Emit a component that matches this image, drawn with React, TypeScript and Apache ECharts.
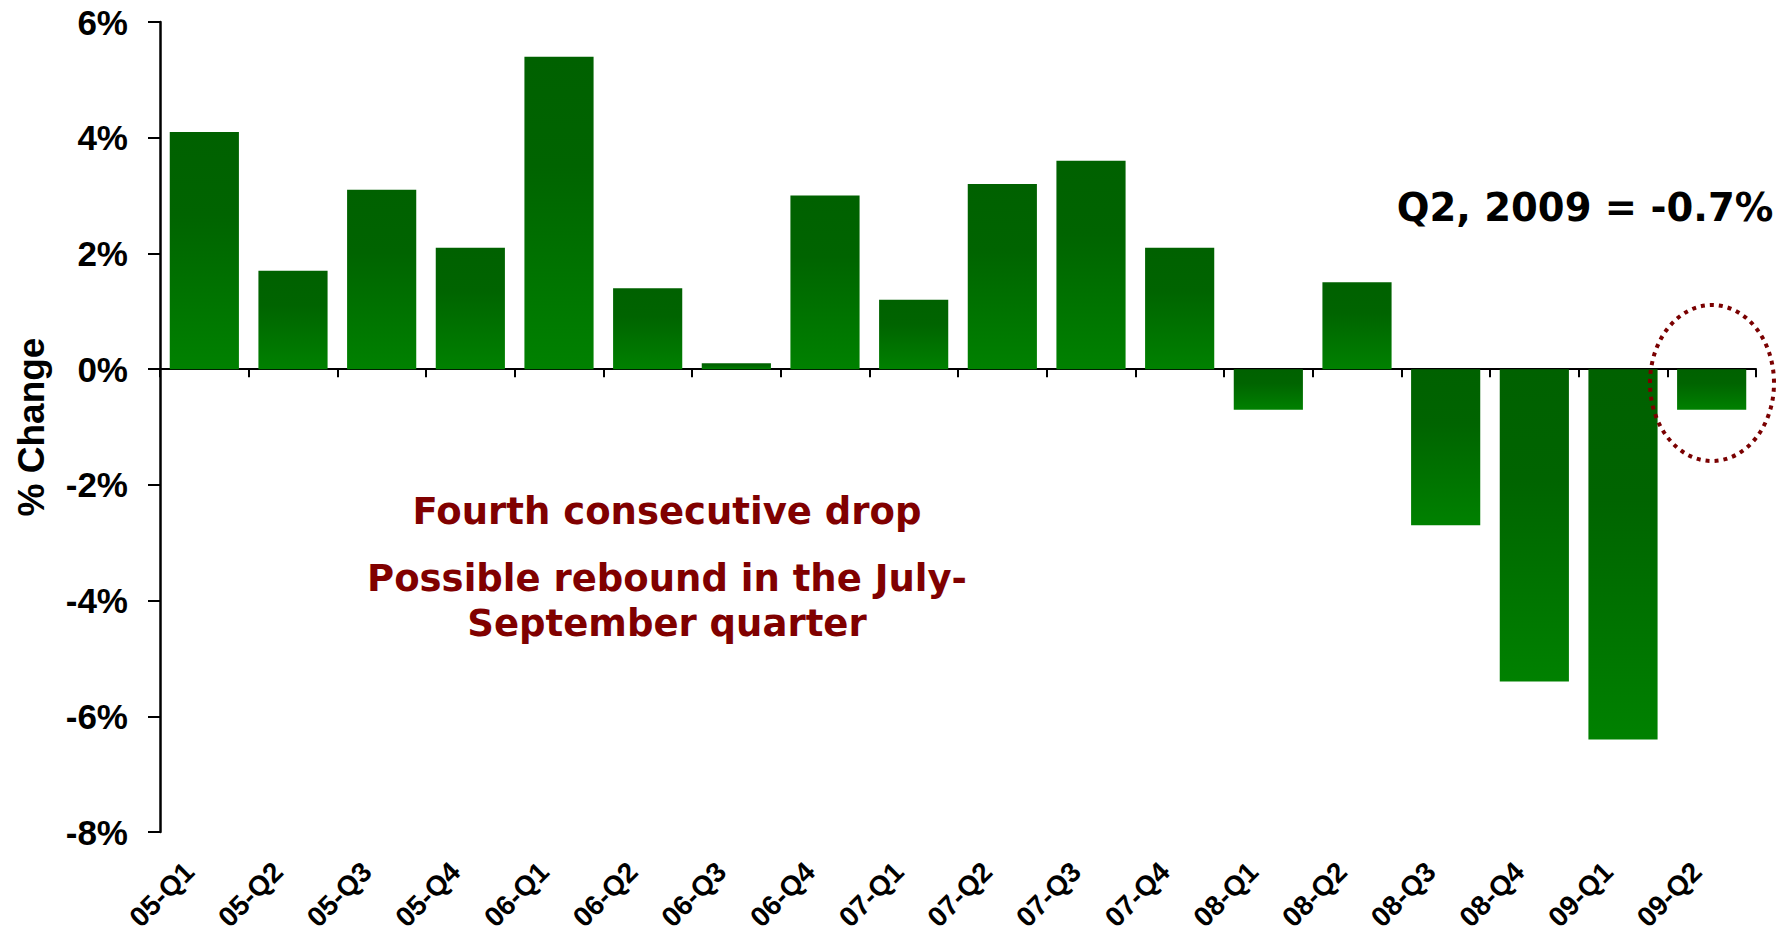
import React, { useEffect, useRef } from "react";
import * as echarts from "echarts";

const categories = [
  "05-Q1", "05-Q2", "05-Q3", "05-Q4",
  "06-Q1", "06-Q2", "06-Q3", "06-Q4",
  "07-Q1", "07-Q2", "07-Q3", "07-Q4",
  "08-Q1", "08-Q2", "08-Q3", "08-Q4",
  "09-Q1", "09-Q2",
];
const gdpChange = [
  4.1, 1.7, 3.1, 2.1,
  5.4, 1.4, 0.1, 3.0,
  1.2, 3.2, 3.6, 2.1,
  -0.7, 1.5, -2.7, -5.4,
  -6.4, -0.7,
];
const yMin = -8;
const yMax = 6;
const yStep = 2;
const yAxisTitle = "% Change";
const calloutText = "Q2, 2009 = -0.7%";
const noteLines = ["Fourth consecutive drop", "Possible rebound in the July-", "September quarter"];

export default function App() {
  const ref = useRef<HTMLDivElement>(null);
  useEffect(() => {
    if (!ref.current) return;
    const chart = echarts.init(ref.current, undefined, { renderer: "svg" });
    const barGradient = new echarts.graphic.LinearGradient(0, 0, 0, 1, [
      { offset: 0, color: "#006100" },
      { offset: 0.35, color: "#006400" },
      { offset: 1, color: "#008100" },
    ]);
    const labelFont = '"Liberation Sans", Arial, sans-serif';
    const noteFont = 'bold 37px "DejaVu Sans", Verdana, sans-serif';
    chart.setOption({
      animation: false,
      backgroundColor: "#ffffff",
      grid: [
        { left: 160, right: 32, top: 22, bottom: 102, containLabel: false },
        { left: 145, right: 47, top: 22, bottom: 102, containLabel: false },
      ],
      xAxis: [
        {
          type: "category",
          gridIndex: 0,
          data: categories,
          boundaryGap: true,
          axisLine: { show: true, onZero: true, lineStyle: { color: "#000", width: 2 } },
          axisTick: { show: true, length: 8, alignWithLabel: false, lineStyle: { color: "#000", width: 2 } },
          axisLabel: { show: false },
          splitLine: { show: false },
        },
        {
          type: "category",
          gridIndex: 1,
          data: categories,
          position: "bottom",
          boundaryGap: true,
          axisLine: { show: false, onZero: false },
          axisTick: { show: false },
          axisLabel: {
            show: true,
            rotate: 45,
            margin: 51,
            interval: 0,
            color: "#000",
            fontWeight: "bold",
            fontSize: 28,
            fontFamily: labelFont,
          },
          splitLine: { show: false },
        },
      ],
      yAxis: [
        {
          type: "value",
          gridIndex: 0,
          min: yMin,
          max: yMax,
          interval: yStep,
          axisLine: { show: true, lineStyle: { color: "#000", width: 2.5 } },
          axisTick: { show: true, length: 12, lineStyle: { color: "#000", width: 2 } },
          axisLabel: {
            formatter: "{value}%",
            margin: 32,
            color: "#000",
            fontWeight: "bold",
            fontSize: 35,
            fontFamily: labelFont,
          },
          splitLine: { show: false },
        },
        {
          type: "value",
          gridIndex: 1,
          min: yMin,
          max: yMax,
          interval: yStep,
          show: false,
        },
      ],
      series: [
        {
          type: "bar",
          data: gdpChange,
          xAxisIndex: 0,
          yAxisIndex: 0,
          barWidth: "78%",
          itemStyle: { color: barGradient },
        },
      ],
      graphic: [
        {
          type: "text",
          x: 31,
          y: 427,
          rotation: Math.PI / 2,
          style: {
            text: yAxisTitle,
            fill: "#000",
            font: 'bold 37px "Liberation Sans", Arial, sans-serif',
            align: "center",
            verticalAlign: "middle",
          },
        },
        {
          type: "text",
          x: 1585,
          y: 207,
          style: {
            text: calloutText,
            fill: "#000",
            font: 'bold 38.5px "DejaVu Sans", Verdana, sans-serif',
            align: "center",
            verticalAlign: "middle",
          },
        },
        {
          type: "text",
          x: 667,
          y: 511,
          style: { text: noteLines[0], fill: "#800000", font: noteFont, align: "center", verticalAlign: "middle" },
        },
        {
          type: "text",
          x: 667,
          y: 578,
          style: { text: noteLines[1], fill: "#800000", font: noteFont, align: "center", verticalAlign: "middle" },
        },
        {
          type: "text",
          x: 667,
          y: 623,
          style: { text: noteLines[2], fill: "#800000", font: noteFont, align: "center", verticalAlign: "middle" },
        },
        {
          type: "ellipse",
          shape: { cx: 1712, cy: 383, rx: 62, ry: 78 },
          style: {
            fill: "none",
            stroke: "#7a0000",
            lineWidth: 4,
            lineDash: [4, 5],
          },
          z: 100,
        },
      ],
    });
    return () => chart.dispose();
  }, []);
  return (
    <div
      ref={ref}
      style={{ position: "fixed", left: 0, top: 0, width: 1788, height: 934, background: "#fff" }}
    />
  );
}
